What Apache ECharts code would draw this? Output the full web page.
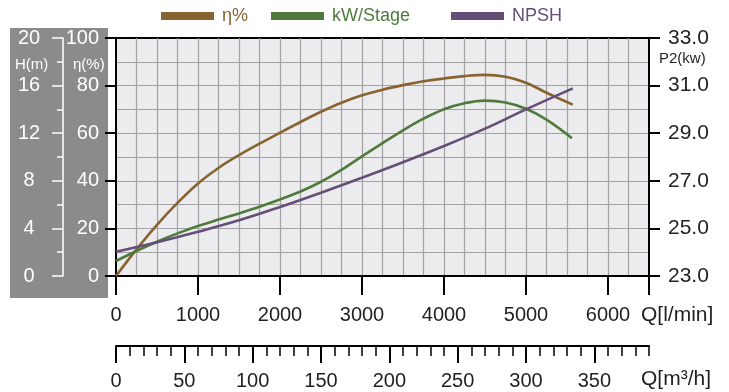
<!DOCTYPE html>
<html><head><meta charset="utf-8">
<script src="https://cdn.jsdelivr.net/npm/echarts@6/dist/echarts.min.js"></script>
<style>html,body{margin:0;padding:0;background:#fff}#c{width:729px;height:392px}</style>
</head><body><div id="c"></div>
<script>
// ---- data ----
const flowTicksLpm = [0, 1000, 2000, 3000, 4000, 5000, 6000];
const flowTicksM3h = [0, 50, 100, 150, 200, 250, 300, 350];
const etaTicks = [0, 20, 40, 60, 80, 100];
const headTicks = [0, 4, 8, 12, 16, 20];
const powerTicks = [23, 25, 27, 29, 31, 33];
const legendNames = ['η%', 'kW/Stage', 'NPSH'];

const flowEta = [0, 250, 500, 750, 1000, 1250, 1500, 1750, 2000, 2250, 2500, 2750, 3000, 3250, 3500, 3750, 4000, 4250, 4500, 4750, 5000, 5250, 5570];
const etaVals = [0, 11.2, 21.5, 30.7, 38.9, 45.4, 50.8, 55.6, 60.2, 64.7, 69.0, 72.8, 75.9, 78.3, 80.2, 81.8, 83.0, 84.0, 84.5, 83.7, 81.2, 77.0, 72.0];

const flowKw = [0, 250, 500, 750, 1000, 1250, 1500, 1750, 2000, 2250, 2500, 2750, 3000, 3250, 3500, 3750, 4000, 4250, 4500, 4750, 5000, 5250, 5560];
const kwVals = [23.63, 24.05, 24.44, 24.79, 25.1, 25.37, 25.63, 25.91, 26.22, 26.55, 26.96, 27.46, 28.03, 28.58, 29.12, 29.61, 30.01, 30.26, 30.37, 30.29, 30.03, 29.57, 28.79];

const flowNpsh = [0, 500, 1000, 1500, 2000, 2500, 3000, 3500, 4000, 4500, 5000, 5570];
const npshVals = [2.04, 2.84, 3.72, 4.68, 5.8, 7.0, 8.26, 9.56, 10.92, 12.38, 14.0, 15.77];

// ---- style ----
const F = '"Liberation Sans", Arial, sans-serif';
const BROWN = '#876330', GREEN = '#4f7a3c', PURPLE = '#654f78';
const TXT = '#231f20';
const GRIDC = '#a2a2a2';

const zip = (a, b) => a.map((x, i) => [x, b[i]]);

const chart = echarts.init(document.getElementById('c'), null, {renderer: 'canvas'});

function legend(name, left, color) {
  return {
    data: [{name: name}], left: left, top: 7, padding: 0, orient: 'horizontal',
    itemWidth: 53, itemHeight: 8, icon: 'rect', selectedMode: false,
    textStyle: {color: color, fontSize: 18, fontFamily: F, padding: [0, 0, 0, 3]}
  };
}

const option = {
  animation: false,
  backgroundColor: '#fff',
  legend: [legend(legendNames[0], 161, BROWN), legend(legendNames[1], 271, GREEN), legend(legendNames[2], 451, PURPLE)],
  grid: [
    {left: 116, right: 80, top: 38, bottom: 116, show: true, backgroundColor: '#ececee', borderColor: '#000', borderWidth: 2, containLabel: false},
    {left: 116, width: 533 * 350 / 390, top: 300, bottom: 46, show: false, containLabel: false}
  ],
  graphic: [
    {type: 'rect', z: -10, shape: {x: 10, y: 28, width: 98, height: 270}, style: {fill: '#8b8b8d'}},
    {type: 'text', left: 15, top: 57, style: {text: 'H(m)', fill: '#fff', fontSize: 15, fontFamily: F}},
    {type: 'text', left: 73, top: 57, style: {text: 'η(%)', fill: '#fff', fontSize: 15, fontFamily: F}},
    {type: 'text', left: 659, top: 51, style: {text: 'P2(kw)', fill: TXT, fontSize: 15, fontFamily: F}},
    {type: 'text', left: 641, top: 305, style: {text: 'Q[l/min]', fill: TXT, fontSize: 21, fontFamily: F}},
    {type: 'text', left: 641, top: 369, style: {text: 'Q[m³/h]', fill: TXT, fontSize: 21, fontFamily: F}}
  ],
  xAxis: [
    {type: 'value', gridIndex: 0, min: 0, max: 6500, interval: 1000, position: 'bottom',
      axisLine: {show: true, onZero: false, lineStyle: {color: '#000', width: 2}},
      axisTick: {show: true, length: 19, lineStyle: {color: '#000', width: 2}},
      axisLabel: {show: true, margin: 29, color: TXT, fontSize: 20, fontFamily: F,
        formatter: v => (flowTicksLpm.indexOf(v) >= 0 ? String(v) : '')},
      splitLine: {show: false}},
    {type: 'value', gridIndex: 0, min: 0, max: 6500, interval: 250, position: 'bottom',
      axisLine: {show: false}, axisTick: {show: false}, axisLabel: {show: false},
      splitLine: {show: true, showMinLine: false, showMaxLine: false, lineStyle: {color: GRIDC, width: 1.2}}},
    {type: 'value', gridIndex: 0, min: 0, max: 390, interval: 10, position: 'bottom', offset: 70,
      axisLine: {show: true, onZero: false, lineStyle: {color: '#000', width: 2}},
      axisTick: {show: true, length: 10, lineStyle: {color: '#000', width: 1.5}},
      axisLabel: {show: false}, splitLine: {show: false}},
    {type: 'value', gridIndex: 1, min: 0, max: 350, interval: 50, position: 'bottom',
      axisLine: {show: false, onZero: false},
      axisTick: {show: true, length: 17, lineStyle: {color: '#000', width: 2}},
      axisLabel: {show: true, margin: 25, color: TXT, fontSize: 20, fontFamily: F,
        formatter: v => (flowTicksM3h.indexOf(v) >= 0 ? String(v) : '')},
      splitLine: {show: false}}
  ],
  yAxis: [
    {type: 'value', gridIndex: 0, min: 0, max: 100, interval: 20, position: 'left',
      axisLine: {show: true, onZero: false, lineStyle: {color: '#000', width: 2}},
      axisTick: {show: true, length: 11, lineStyle: {color: '#000', width: 2}},
      axisLabel: {show: true, margin: 17, color: '#fff', fontSize: 20, fontFamily: F,
        formatter: v => (etaTicks.indexOf(v) >= 0 ? String(v) : '')},
      splitLine: {show: false}},
    {type: 'value', gridIndex: 0, min: 0, max: 20, interval: 4, position: 'left', offset: 53,
      axisLine: {show: true, onZero: false, lineStyle: {color: '#fff', width: 1.5}},
      axisTick: {show: true, length: 11, lineStyle: {color: '#fff', width: 1.5}},
      minorTick: {show: true, splitNumber: 2, length: 6, lineStyle: {color: '#fff', width: 1.5}},
      axisLabel: {show: true, margin: 34, align: 'center', color: '#fff', fontSize: 20, fontFamily: F,
        formatter: v => (headTicks.indexOf(v) >= 0 ? String(v) : '')},
      splitLine: {show: false}},
    {type: 'value', gridIndex: 0, min: 23, max: 33, interval: 2, position: 'right',
      axisLine: {show: true, onZero: false, lineStyle: {color: '#000', width: 2}},
      axisTick: {show: true, customValues: powerTicks, length: 11, lineStyle: {color: '#000', width: 2}},
      axisLabel: {show: true, customValues: powerTicks, margin: 19, color: TXT, fontSize: 21, fontFamily: F,
        formatter: v => v.toFixed(1)},
      splitLine: {show: false}},
    {type: 'value', gridIndex: 0, min: 0, max: 10, interval: 1, position: 'left',
      axisLine: {show: false}, axisTick: {show: false}, axisLabel: {show: false},
      splitLine: {show: true, showMinLine: false, showMaxLine: false, lineStyle: {color: GRIDC, width: 1.2}}},
    {type: 'value', gridIndex: 1, min: 0, max: 1, show: false}
  ],
  series: [
    {type: 'line', name: legendNames[0], xAxisIndex: 0, yAxisIndex: 0, smooth: 0.4, showSymbol: false,
      data: zip(flowEta, etaVals), lineStyle: {color: BROWN, width: 2.6}, itemStyle: {color: BROWN}, z: 5},
    {type: 'line', name: legendNames[1], xAxisIndex: 0, yAxisIndex: 2, smooth: 0.4, showSymbol: false,
      data: zip(flowKw, kwVals), lineStyle: {color: GREEN, width: 2.6}, itemStyle: {color: GREEN}, z: 5},
    {type: 'line', name: legendNames[2], xAxisIndex: 0, yAxisIndex: 1, smooth: 0.4, showSymbol: false,
      data: zip(flowNpsh, npshVals), lineStyle: {color: PURPLE, width: 2.6}, itemStyle: {color: PURPLE}, z: 5}
  ]
};
chart.setOption(option);
</script>
</body></html>
